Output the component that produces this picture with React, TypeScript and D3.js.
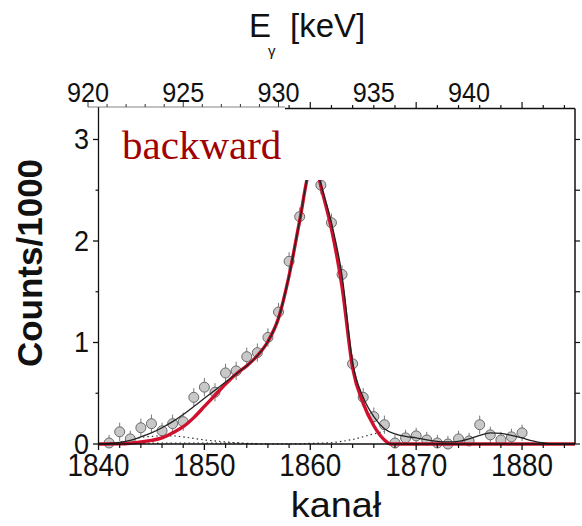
import React from 'react';
import * as d3 from 'd3';

// Measured data (counts / 1000) per channel
const channels = [1841,1842,1843,1844,1845,1846,1847,1848,1849,1850,1851,1852,1853,1854,1855,1856,1857,1858,1859,1860,1861,1862,1863,1864,1865,1866,1867,1868,1869,1870,1871,1872,1873,1874,1875,1876,1877,1878,1879,1880];
const counts = [0.01,0.12,0.05,0.16,0.20,0.13,0.20,0.22,0.46,0.56,0.51,0.70,0.72,0.86,0.90,1.05,1.30,1.80,2.24,2.85,2.55,2.18,1.67,0.79,0.46,0.27,0.19,0.01,0.06,0.08,0.04,0.01,0.0,0.05,0.03,0.19,0.09,0.04,0.07,0.11];
const errors = [0.08,0.09,0.08,0.09,0.09,0.08,0.09,0.09,0.09,0.09,0.09,0.09,0.09,0.09,0.09,0.09,0.09,0.09,0.09,0.09,0.09,0.09,0.09,0.09,0.09,0.09,0.09,0.08,0.08,0.08,0.08,0.08,0.08,0.08,0.08,0.09,0.08,0.08,0.08,0.08];

// Total fit (black)
const totalCh = [1840,1841,1842,1843,1844,1845,1846,1847,1848,1849,1850,1851,1852,1853,1854,1855,1856,1857,1858,1859,1860,1860.5,1861,1862,1863,1864,1865,1866,1867,1868,1869,1870,1871,1872,1873,1874,1875,1876,1877,1878,1879,1880,1881,1882,1883,1885];
const totalFit = [0,0.005,0.015,0.035,0.07,0.11,0.16,0.22,0.29,0.37,0.45,0.53,0.61,0.69,0.77,0.87,1.01,1.24,1.66,2.2,2.72,2.76,2.56,2.18,1.66,0.8,0.46,0.27,0.15,0.1,0.075,0.06,0.04,0.025,0.02,0.025,0.05,0.085,0.11,0.105,0.085,0.06,0.03,0.01,0,0];

// Main peak component (red)
const peakCh = [1840,1842,1843,1844,1845,1846,1847,1848,1849,1850,1851,1852,1853,1854,1855,1856,1857,1858,1859,1860,1860.5,1861,1862,1863,1864,1865,1866,1867,1867.6,1870,1885];
const peakFit = [0,0.002,0.008,0.02,0.035,0.06,0.11,0.17,0.26,0.37,0.48,0.59,0.69,0.77,0.87,1.01,1.24,1.66,2.2,2.72,2.76,2.54,2.12,1.55,0.75,0.4,0.18,0.04,0,0,0];

// Minor components (dotted)
const compACh = [1840,1842,1843,1844,1845,1846,1847,1848,1849,1850,1851,1852,1853,1854,1855];
const compA = [0,0.02,0.045,0.065,0.075,0.08,0.08,0.07,0.055,0.04,0.03,0.02,0.012,0.005,0];
const compBCh = [1840,1843,1848,1853,1856];
const compB = [0,0.008,0.01,0.008,0];
const compCCh = [1856,1858,1860,1862,1864,1866,1867];
const compC = [0,0.002,0.006,0.014,0.045,0.1,0.125];

const yTicks = [0,1,2,3];
const yMinor = [0.5,1.5,2.5];
const xTicks = [1840,1850,1860,1870,1880];
const eTicks = [920,925,930,935,940];

const FONT = '"Liberation Sans", Arial, sans-serif';

export default function App() {
  const W = 582, H = 526;
  const x = d3.scaleLinear().domain([1840, 1885]).range([98.5, 575]);
  const y = d3.scaleLinear().domain([0, 3.32]).range([444, 107]);
  const e = d3.scaleLinear().domain([920, 940]).range([88, 469]);

  const line = (xs: number[], ys: number[]) =>
    d3.line<number>().x((_, i) => x(xs[i])).y((v) => y(v)).curve(d3.curveMonotoneX)(ys) || '';

  const xMinor = d3.range(1840, 1886, 2).filter((c) => c % 10 !== 0);
  const topCh = d3.range(1858, 1886, 2);
  const eAll = d3.range(920, 931, 1);

  return (
    <svg width={W} height={H} style={{ position: 'absolute', left: 0, top: 0, background: '#fff' }}>
      <rect x={0} y={0} width={W} height={H} fill="#fff" />

      {/* dotted components */}
      <path d={line(compACh, compA)} fill="none" stroke="#333" strokeWidth={1.2} strokeDasharray="1.5,3" />
      <path d={line(compBCh, compB)} fill="none" stroke="#333" strokeWidth={1.2} strokeDasharray="1.5,3" />
      <path d={line(compCCh, compC)} fill="none" stroke="#333" strokeWidth={1.2} strokeDasharray="1.5,3" />

      {/* data points */}
      {channels.map((c, i) => (
        <g key={c}>
          <line x1={x(c)} x2={x(c)} y1={y(counts[i] + errors[i])} y2={y(Math.max(0, counts[i] - errors[i]))} stroke="#777" strokeWidth={1} />
          <circle cx={x(c)} cy={y(counts[i])} r={5} fill="#c8c8c8" stroke="#6a6a6a" strokeWidth={1} />
        </g>
      ))}

      {/* fits */}
      <path d={line(peakCh, peakFit)} fill="none" stroke="#d0102c" strokeWidth={3.4} />
      <path d={line(totalCh, totalFit)} fill="none" stroke="#222" strokeWidth={1.3} />

      {/* white label box hiding peak top */}
      <rect x={100} y={109} width={226} height={71} fill="#fff" />
      <text x={122} y={159} fontFamily='"Liberation Serif", "Times New Roman", serif' fontSize={41} fill="#a00000">backward</text>

      {/* frame */}
      <line x1={98.5} x2={98.5} y1={107} y2={444} stroke="#111" strokeWidth={1.3} />
      <line x1={98.5} x2={575} y1={444} y2={444} stroke="#111" strokeWidth={1.5} />
      <line x1={575} x2={575} y1={108.5} y2={444} stroke="#111" strokeWidth={1.5} />
      <line x1={285} x2={575} y1={108.5} y2={108.5} stroke="#111" strokeWidth={1.6} />
      {topCh.map((c) => (
        <line key={'tc' + c} x1={x(c)} x2={x(c)} y1={108.5} y2={c % 10 === 0 ? 102 : 105} stroke="#111" strokeWidth={1.2} />
      ))}

      {/* energy axis (top) */}
      <line x1={88} x2={285} y1={107} y2={107} stroke="#666" strokeWidth={0.8} />
      {eAll.map((v) => (
        <line key={'e' + v} x1={e(v)} x2={e(v)} y1={107} y2={v % 5 === 0 ? 100 : 104} stroke="#333" strokeWidth={1} />
      ))}
      {eTicks.map((v) => (
        <text key={'el' + v} transform={`translate(${e(v)},102) scale(0.9,1)`} textAnchor="middle" fontFamily={FONT} fontSize={28} fill="#111">{v}</text>
      ))}
      <text x={249} y={37} fontFamily={FONT} fontSize={33} fill="#111">E</text>
      <text x={268} y={56} fontFamily={FONT} fontSize={15} fill="#111">γ</text>
      <text x={290} y={37} fontFamily={FONT} fontSize={33} fill="#111">[keV]</text>

      {/* bottom axis */}
      {xTicks.map((v) => (
        <line key={'xt' + v} x1={x(v)} x2={x(v)} y1={444} y2={450} stroke="#111" strokeWidth={1.3} />
      ))}
      {xMinor.map((v) => (
        <line key={'xm' + v} x1={x(v)} x2={x(v)} y1={444} y2={448} stroke="#111" strokeWidth={1.2} />
      ))}
      {xTicks.map((v) => (
        <text key={'xl' + v} transform={`translate(${x(v)},476) scale(0.9,1)`} textAnchor="middle" fontFamily={FONT} fontSize={31} fill="#111">{v}</text>
      ))}
      <text transform="translate(336,517) scale(1.08,1)" textAnchor="middle" fontFamily={FONT} fontSize={35} fill="#111">kanał</text>

      {/* left axis */}
      {yTicks.map((v) => (
        <line key={'yt' + v} x1={93} x2={98.5} y1={y(v)} y2={y(v)} stroke="#111" strokeWidth={1.3} />
      ))}
      {yMinor.map((v) => (
        <line key={'ym' + v} x1={95.5} x2={98.5} y1={y(v)} y2={y(v)} stroke="#111" strokeWidth={1.2} />
      ))}
      {yTicks.map((v) => (
        <text key={'yl' + v} transform={`translate(89,${y(v) + 10}) scale(0.9,1)`} textAnchor="end" fontFamily={FONT} fontSize={30} fill="#111">{v}</text>
      ))}
      <text transform="translate(42,263) rotate(-90)" textAnchor="middle" fontFamily={FONT} fontSize={35} fontWeight="bold" fill="#111">Counts/1000</text>

      {/* right axis ticks */}
      {[...yTicks, ...yMinor].map((v) => (
        <line key={'yr' + v} x1={575} x2={580} y1={y(v)} y2={y(v)} stroke="#111" strokeWidth={1.2} />
      ))}
    </svg>
  );
}
